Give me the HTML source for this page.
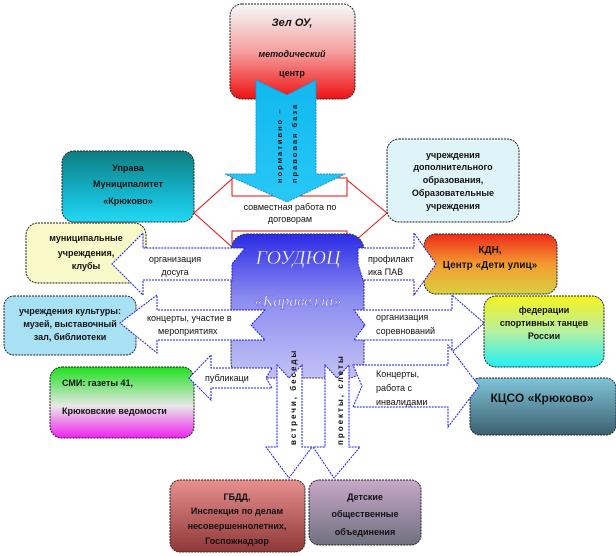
<!DOCTYPE html>
<html><head><meta charset="utf-8"><style>
html,body{margin:0;padding:0;background:#fff;}
svg{display:block;font-family:"Liberation Sans",sans-serif;}
.t{font-weight:bold;font-size:9px;fill:#111;text-anchor:middle;}
.l{font-size:9px;fill:#111;}
.ar{fill:#fff;stroke:#1a1aee;stroke-width:1;stroke-dasharray:2 1;}
.bx{stroke:#222;stroke-width:1;stroke-dasharray:2 1;}
</style></head><body>
<svg width="616" height="556" viewBox="0 0 616 556" xmlns="http://www.w3.org/2000/svg">
<defs>
<linearGradient id="gTop" x1="0" y1="0" x2="0" y2="1"><stop offset="0" stop-color="#f4fbfb"/><stop offset=".5" stop-color="#f6a0a0"/><stop offset="1" stop-color="#ee1111"/></linearGradient>
<linearGradient id="gBlue" x1="0" y1="0" x2="0" y2="1"><stop offset="0" stop-color="#11b8ee"/><stop offset="1" stop-color="#28c8f6"/></linearGradient>
<linearGradient id="gCen" x1="0" y1="0" x2="0" y2="1"><stop offset="0" stop-color="#2a2ae6"/><stop offset=".45" stop-color="#8c8cf0"/><stop offset="1" stop-color="#c2c2f6"/></linearGradient>
<linearGradient id="gTeal" x1="0" y1="0" x2="0" y2="1"><stop offset="0" stop-color="#0f7d80"/><stop offset=".6" stop-color="#14b4cc"/><stop offset="1" stop-color="#22d8f4"/></linearGradient>
<linearGradient id="gKdn" x1="0" y1="0" x2="0" y2="1"><stop offset="0" stop-color="#ee2a1a"/><stop offset=".5" stop-color="#f49a30"/><stop offset="1" stop-color="#d8d040"/></linearGradient>
<linearGradient id="gFed" x1="0" y1="0" x2="0" y2="1"><stop offset="0" stop-color="#f6f220"/><stop offset=".5" stop-color="#b8f0a0"/><stop offset="1" stop-color="#22f0f6"/></linearGradient>
<linearGradient id="gSmi" x1="0" y1="0" x2="0" y2="1"><stop offset="0" stop-color="#1ee01e"/><stop offset=".55" stop-color="#e8e8e8"/><stop offset="1" stop-color="#ee22ee"/></linearGradient>
<linearGradient id="gK" x1="0" y1="0" x2="0" y2="1"><stop offset="0" stop-color="#80c4d8"/><stop offset="1" stop-color="#3c6070"/></linearGradient>
<linearGradient id="gG" x1="0" y1="0" x2="0" y2="1"><stop offset="0" stop-color="#e89090"/><stop offset="1" stop-color="#903838"/></linearGradient>
<linearGradient id="gD" x1="0" y1="0" x2="0" y2="1"><stop offset="0" stop-color="#c8a8c8"/><stop offset="1" stop-color="#707080"/></linearGradient>
</defs>

<rect class="bx" x="230" y="4" width="125" height="95" rx="12" fill="url(#gTop)"/>
<text class="t" x="292" y="26" style="font-size:11px;font-style:italic">Зел ОУ,</text>
<text class="t" x="292" y="57" style="font-style:italic">методический</text>
<text class="t" x="292" y="76">центр</text>

<g fill="none" stroke="#e01010" stroke-width="1">
<polyline points="233,178 194,213 233,248"/>
<polyline points="347,180 387,213 347,248"/>
<rect x="232" y="178" width="115" height="18"/>
<rect x="232" y="231" width="115" height="12"/>
</g>
<text class="l" x="290" y="210" text-anchor="middle">совместная работа по</text>
<text class="l" x="290" y="222" text-anchor="middle">договорам</text>

<rect class="bx" x="62" y="151" width="132" height="71" rx="12" fill="url(#gTeal)"/>
<text class="t" x="128" y="171">Управа</text>
<text class="t" x="128" y="187">Муниципалитет</text>
<text class="t" x="128" y="204">«Крюково»</text>

<rect class="bx" x="387" y="139" width="132" height="83" rx="12" fill="#dff4f8"/>
<text class="t" x="453" y="158">учреждения</text>
<text class="t" x="453" y="170">дополнительного</text>
<text class="t" x="453" y="183">образования,</text>
<text class="t" x="453" y="196">Образовательные</text>
<text class="t" x="453" y="209">учреждения</text>

<rect class="bx" x="26" y="223" width="120" height="60" rx="12" fill="#f8f8c8"/>
<text class="t" x="86" y="241">муниципальные</text>
<text class="t" x="86" y="256">учреждения,</text>
<text class="t" x="86" y="269">клубы</text>

<rect class="bx" x="424" y="234" width="133" height="60" rx="12" fill="url(#gKdn)"/>
<text class="t" x="490" y="253" style="font-size:10px">КДН,</text>
<text class="t" x="490" y="268" style="font-size:10px">Центр «Дети улиц»</text>

<rect class="bx" x="4" y="296" width="132" height="59" rx="10" fill="#a8e0f4"/>
<text class="t" x="70" y="314">учреждения культуры:</text>
<text class="t" x="70" y="327">музей, выставочный</text>
<text class="t" x="70" y="340">зал, библиотеки</text>

<rect class="bx" x="484" y="296" width="120" height="71" rx="12" fill="url(#gFed)"/>
<text class="t" x="544" y="313">федерации</text>
<text class="t" x="544" y="326">спортивных танцев</text>
<text class="t" x="544" y="339">России</text>

<rect class="bx" x="50" y="367" width="144" height="71" rx="12" fill="url(#gSmi)"/>
<text class="t" x="62" y="386" style="text-anchor:start">СМИ: газеты 41,</text>
<text class="t" x="62" y="414" style="text-anchor:start">Крюковские ведомости</text>

<rect class="bx" x="470" y="378" width="146" height="57" rx="10" fill="url(#gK)"/>
<text class="t" x="542" y="402" style="font-size:12px">КЦСО «Крюково»</text>

<rect class="bx" x="170" y="480" width="135" height="72" rx="10" fill="url(#gG)"/>
<text class="t" x="237" y="500">ГБДД,</text>
<text class="t" x="237" y="514">Инспекция по делам</text>
<text class="t" x="237" y="529">несовершеннолетних,</text>
<text class="t" x="237" y="544">Госпожнадзор</text>

<rect class="bx" x="309" y="480" width="112" height="65" rx="10" fill="url(#gD)"/>
<text class="t" x="365" y="500">Детские</text>
<text class="t" x="365" y="517">общественные</text>
<text class="t" x="365" y="535">объединения</text>

<rect x="231" y="234" width="133" height="144" rx="16" fill="url(#gCen)" stroke="#333" stroke-dasharray="2 1"/>

<polygon class="ar" points="232,280 143,280 143,295 112,264 143,233 143,248 245,248 232,264"/>
<text class="l" x="175" y="262" text-anchor="middle">организация</text>
<text class="l" x="175" y="275" text-anchor="middle">досуга</text>

<polygon class="ar" points="358,248 414,248 414,233 436,264 414,295 414,280 363,280 358,264"/>
<text class="l" x="368" y="262">профилакт</text>
<text class="l" x="368" y="275">ика ПАВ</text>

<polygon class="ar" points="265,310 157,310 157,295 120,323 157,353 157,340 265,340 251,325"/>
<text class="l" x="147" y="321">концерты, участие в</text>
<text class="l" x="158" y="334">мероприятиях</text>

<polygon class="ar" points="354,310 452,310 452,295 484,323 452,352 452,340 354,340 365,325"/>
<text class="l" x="376" y="320">организация</text>
<text class="l" x="376" y="334">соревнований</text>

<polygon class="ar" points="272,368 211,368 211,355 189,378 211,400 211,388 272,388 266,378"/>
<text class="l" x="205" y="381">публикаци</text>

<polygon class="ar" points="353,365 448,365 448,345 479,386 448,427 448,407 353,407 362,386"/>
<text class="l" x="376" y="377">Концерты,</text>
<text class="l" x="376" y="391">работа с</text>
<text class="l" x="376" y="405">инвалидами</text>

<polygon class="ar" points="277,365 289,378 302,365 302,447 312,447 289,478 266,447 277,447"/>
<polygon class="ar" points="325,365 337,378 349,365 349,447 360,447 334,478 313,447 325,447"/>
<text class="l" transform="translate(296,445) rotate(-90)" style="font-weight:bold;letter-spacing:2px;font-size:8px">встречи, беседы</text>
<text class="l" transform="translate(343,445) rotate(-90)" style="font-weight:bold;letter-spacing:2px;font-size:8px">проекты, слеты</text>

<text x="298" y="264" text-anchor="middle" style="font-family:'Liberation Serif',serif;font-style:italic;font-size:20px;fill:#fff;stroke:#6060e0;stroke-width:.5">ГОУДЮЦ</text>
<text x="298" y="306" text-anchor="middle" style="font-family:'Liberation Serif',serif;font-style:italic;font-size:16px;fill:#fff;stroke:#6060e0;stroke-width:.4">«Каравелла»</text>

<polygon points="256,80 287,95 316,80 316,174 345,174 287,202 225,174 256,174" fill="url(#gBlue)" stroke="#1a8ee0" stroke-dasharray="2 1"/>
<text transform="translate(282,183) rotate(-90)" style="font-weight:bold;font-size:7.5px;letter-spacing:2px;fill:#111">нормативно –</text>
<text transform="translate(297,183) rotate(-90)" style="font-weight:bold;font-size:7.5px;letter-spacing:2px;fill:#111">правовая база</text>
</svg>
</body></html>
